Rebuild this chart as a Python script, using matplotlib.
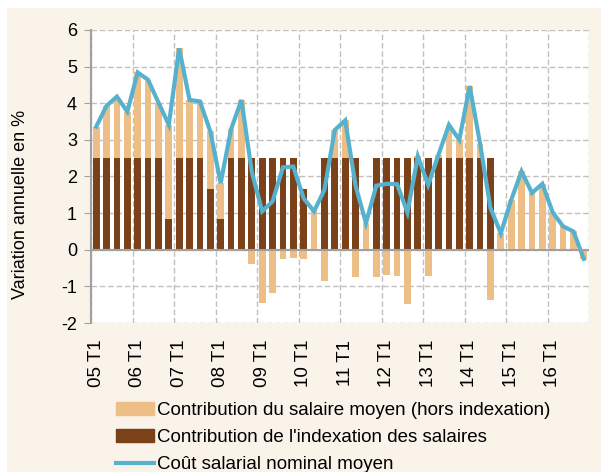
import numpy as np
import matplotlib
matplotlib.use("Agg")
import matplotlib.pyplot as plt
from matplotlib.patches import Rectangle, Patch
from matplotlib.lines import Line2D

# quarterly data, 2005 T1 .. 2016 T4
years = ["05", "06", "07", "08", "09", "10", "11", "12", "13", "14", "15", "16"]

total = [3.36, 3.93, 4.18, 3.77, 4.84, 4.64, 4.02, 3.41,
         5.50, 4.09, 4.05, 3.23, 1.82, 3.29, 4.09, 2.12,
         1.05, 1.32, 2.25, 2.27, 1.40, 1.05, 1.64, 3.27,
         3.53, 1.75, 0.73, 1.75, 1.80, 1.79, 1.02, 2.55,
         1.77, 2.60, 3.41, 3.00, 4.47, 2.90, 1.14, 0.45,
         1.36, 2.14, 1.55, 1.80, 1.02, 0.64, 0.50, -0.25]

indexation = [2.5, 2.5, 2.5, 2.5, 2.5, 2.5, 2.5, 0.84,
              2.5, 2.5, 2.5, 1.65, 0.84, 2.5, 2.5, 2.5,
              2.5, 2.5, 2.5, 2.5, 1.65, 0.0, 2.5, 2.5,
              2.5, 2.5, 0.0, 2.5, 2.5, 2.5, 2.5, 2.5,
              2.5, 2.5, 2.5, 2.5, 2.5, 2.5, 2.5, 0.0,
              0.0, 0.0, 0.0, 0.0, 0.0, 0.0, 0.0, 0.0]

labels = ["Contribution du salaire moyen (hors indexation)",
          "Contribution de l'indexation des salaires",
          "Coût salarial nominal moyen"]

light = "#EDBF87"
dark = "#7B421A"
blue = "#56B1CE"
cream = "#FAF3EA"
grid = "#C0C0C0"

total = np.array(total)
indexation = np.array(indexation)
salaire = total - indexation
x = np.arange(len(total))

plt.rcParams["font.family"] = ["Liberation Sans", "DejaVu Sans"]

fig = plt.figure(figsize=(6.01, 4.72), dpi=100, facecolor="white")
fig.patches.append(Rectangle((7 / 601, 0), 1, 1 - 8 / 472, transform=fig.transFigure,
                             facecolor=cream, edgecolor="none", zorder=-10))

ax = fig.add_axes([91 / 601, 1 - 323 / 472, 498 / 601, 293 / 472])
ax.set_facecolor("white")

w = 0.64
ax.bar(x, indexation, w, color=dark, zorder=2)
# positive parts stack on the indexation bar, negative parts hang from zero
bottom = np.where(salaire >= 0, indexation, 0)
ax.bar(x, salaire, w, bottom=bottom, color=light, zorder=2)
ax.plot(x, total, color=blue, lw=3, zorder=3, solid_joinstyle="miter")
ax.axhline(0, color="#A0A0A0", lw=1.5, zorder=4)

ax.set_xlim(-0.5, len(x) - 0.5)
ax.set_ylim(-2, 6)
ax.set_yticks(range(-2, 7))
ax.set_yticklabels([str(v) for v in range(-2, 7)], fontsize=13)
ax.tick_params(axis="y", length=5, color="#A0A0A0", pad=5)

ax.set_xticks(np.arange(-0.5, len(x), 4))
ax.set_xticklabels([])
ax.tick_params(axis="x", length=0)
ax.set_xticks(np.arange(0, len(x), 4), minor=True)
ax.set_xticklabels([f"{y} T1" for y in years], minor=True, rotation=90,
                   fontsize=13.5)
ax.tick_params(axis="x", which="minor", length=0, pad=12)

ax.grid(True, which="major", ls=(0, (4, 2)), color=grid, lw=1, zorder=0)
for s in ["top", "right", "bottom"]:
    ax.spines[s].set_visible(False)
ax.spines["left"].set_color("#A0A0A0")
ax.spines["left"].set_linewidth(1.5)

fig.text(21 / 601, 1 - 204 / 472, "Variation annuelle en %", rotation=90,
         ha="center", va="center", fontsize=13)

handles = [Patch(color=light), Patch(color=dark), Line2D([], [], color=blue, lw=3)]
fig.legend(handles, labels,
           loc="upper left", bbox_to_anchor=(116 / 601, 1 - 402 / 472),
           frameon=False, handlelength=2.0, handletextpad=0.2,
           labelspacing=0.53, borderpad=0, borderaxespad=0,
           prop={"size": 13.5})

fig.savefig("out.png", dpi=100, facecolor=fig.get_facecolor())
